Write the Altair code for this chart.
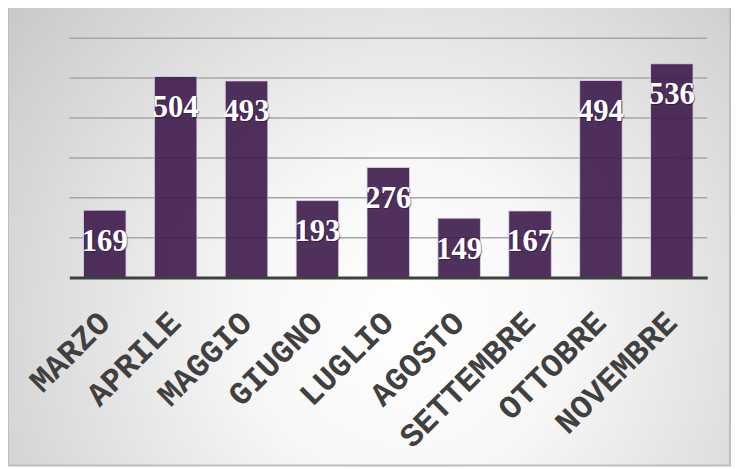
import altair as alt
import pandas as pd

months = ["MARZO", "APRILE", "MAGGIO", "GIUGNO", "LUGLIO", "AGOSTO",
          "SETTEMBRE", "OTTOBRE", "NOVEMBRE"]
values = [169, 504, 493, 193, 276, 149, 167, 494, 536]
grid_values = [100, 200, 300, 400, 500, 600]

df = pd.DataFrame({"mese": months, "valore": values})
grid_df = pd.DataFrame({"v": grid_values})
bg_df = pd.DataFrame({"k": [0]})

W, H = 645, 242
PL, PT, PR, PB = 62, 28, 24, 191

yscale = alt.Scale(domain=[0, 600])
xscale = alt.Scale(paddingInner=0.4, paddingOuter=0.2)

gradient = {
    "gradient": "radial",
    "x1": 0.55, "y1": 0.62, "x2": 0.55, "y2": 0.62,
    "r1": 0, "r2": 0.75,
    "stops": [
        {"offset": 0, "color": "#ffffff"},
        {"offset": 0.3, "color": "#f7f7f7"},
        {"offset": 1, "color": "#c4c4c4"},
    ],
}

bg = alt.Chart(bg_df).mark_rect(fill=gradient, stroke="#bdbdbd", strokeWidth=2).encode(
    x=alt.value(-PL), x2=alt.value(W + PR - 1),
    y=alt.value(-PT - 4), y2=alt.value(H + PB - 1),
)

grid = alt.Chart(grid_df).mark_rule(color="#a6a6a6", strokeWidth=1.5).encode(
    y=alt.Y("v:Q", scale=yscale, axis=None)
)

x_enc = alt.X(
    "mese:N", sort=months, scale=xscale,
    axis=alt.Axis(
        title=None, labelAngle=-45, labelAlign="right", labelBaseline="middle",
        labelFont="Liberation Mono", labelFontSize=33, labelColor="#404040",
        labelFontWeight="bold",
        labelPadding=40, ticks=False, domainColor="#404040", domainWidth=3,
        labelOverlap=False, labelLimit=400, zindex=1,
    ),
)

bars = alt.Chart(df).mark_bar(
    fill="#3d1b4c", fillOpacity=0.9, stroke="#e2d9e6", strokeWidth=1, strokeOpacity=0.8
).encode(
    x=x_enc,
    y=alt.Y("valore:Q", scale=yscale, axis=None),
)

shadow = alt.Chart(df).mark_text(
    color="#1a0f20", opacity=0.45, font="Liberation Serif", fontWeight="bold",
    fontSize=31, baseline="middle", dx=1, dy=33,
).encode(
    x=alt.X("mese:N", sort=months, scale=xscale),
    y=alt.Y("valore:Q", scale=yscale),
    text="valore:Q",
)

labels = alt.Chart(df).mark_text(
    color="white", font="Liberation Serif", fontWeight="bold",
    fontSize=31, baseline="middle", dy=32,
).encode(
    x=alt.X("mese:N", sort=months, scale=xscale),
    y=alt.Y("valore:Q", scale=yscale),
    text="valore:Q",
)

chart = alt.layer(bg, grid, bars, shadow, labels).properties(
    width=W, height=H,
    autosize=alt.AutoSizeParams(type="none"),
    padding={"left": PL, "top": PT, "right": PR, "bottom": PB},
).configure_view(stroke=None)

chart.save("out.html", embed_options={"renderer": "svg", "actions": False})
